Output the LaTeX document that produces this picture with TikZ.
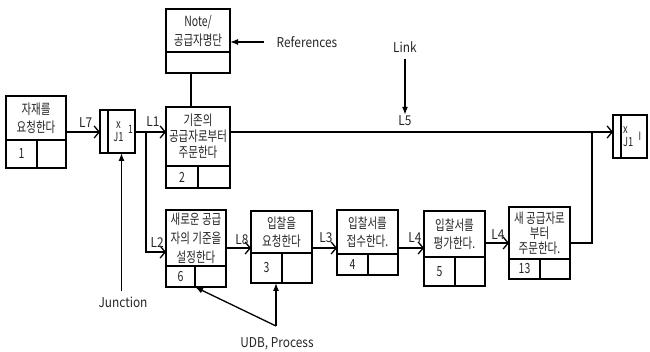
\documentclass[tikz,border=0pt]{standalone}
\usepackage{fontspec}
\setmainfont[FakeStretch=0.75]{Noto Sans CJK KR}
\newfontfamily\tagfont[FakeStretch=0.88]{Noto Sans CJK KR}
\usetikzlibrary{arrows.meta}
\tikzset{
  uob_text/.style = {draw=black, line width=1.7pt, anchor=north west, align=center,
    inner sep=0pt, outer sep=0pt, text=black!85,
    font=\fontsize{14}{16}\selectfont},% activity box, upper part
  uob_cell/.style = {uob_text, font=\fontsize{14}{15}\selectfont},% number / empty cell
  junc_bar/.style = {draw=black, line width=1.7pt, anchor=north west, inner sep=0pt,
    outer sep=0pt, minimum width=8pt, minimum height=43pt},% junction, left strip
  junc_box/.style = {junc_bar, minimum width=27pt},% junction, body
  tag/.style = {inner sep=1pt, text=black!85, font=\tagfont\fontsize{13.5}{14}\selectfont},
  flow/.style = {line width=1.3pt, -{Straight Barb[length=5pt,width=12pt]}},
  plain_line/.style = {line width=1.3pt},
  call_arrow/.style = {line width=1.3pt, -{Latex[length=8pt,width=6pt]}}
}

\begin{document}
\begin{tikzpicture}[x=1pt, y=-1pt]
  \useasboundingbox[fill=white] (0,0) rectangle (650,352);

  % activity boxes
  \node[uob_text, minimum width=60pt, minimum height=44pt, font=\fontsize{14}{18}\selectfont]
    (a1) at (6,96) {자재를\\요청한다};
  \node[uob_cell, minimum width=31pt, minimum height=28pt] (a1n) at (a1.south west) {1};
  \node[uob_cell, minimum width=29pt, minimum height=28pt] (a1e) at (a1n.north east) {};

  \node[uob_text, minimum width=64pt, minimum height=59pt] (a2) at (166,107) {기존의\\공급자로부터\\주문한다};
  \node[uob_cell, minimum width=32pt, minimum height=22pt] (a2n) at (a2.south west) {2};
  \node[uob_cell, minimum width=32pt, minimum height=22pt] (a2e) at (a2n.north east) {};

  \node[uob_text, minimum width=64pt, minimum height=43pt,
    font=\fontsize{14}{19}\selectfont] (n_top) at (166,9) {Note/\\공급자명단};
  \node[uob_cell, minimum width=64pt, minimum height=21pt] (n_bot) at (n_top.south west) {};

  \node[uob_text, minimum width=60pt, minimum height=56pt,
    font=\fontsize{14}{19}\selectfont] (a6) at (166,210) {새로운 공급\\자의 기준을\\설정한다};
  \node[uob_cell, minimum width=29pt, minimum height=21pt] (a6n) at (a6.south west) {6};
  \node[uob_cell, minimum width=31pt, minimum height=21pt] (a6e) at (a6n.north east) {};

  \node[uob_text, minimum width=61pt, minimum height=42pt, font=\fontsize{14}{18}\selectfont]
    (a3) at (251,211) {입찰을\\요청한다};
  \node[uob_cell, minimum width=31pt, minimum height=30pt] (a3n) at (a3.south west) {3};
  \node[uob_cell, minimum width=30pt, minimum height=30pt] (a3e) at (a3n.north east) {};

  \node[uob_text, minimum width=61pt, minimum height=44pt, font=\fontsize{14}{18}\selectfont]
    (a4) at (337,210) {입찰서를\\접수한다.};
  \node[uob_cell, minimum width=31pt, minimum height=21pt] (a4n) at (a4.south west) {4};
  \node[uob_cell, minimum width=30pt, minimum height=21pt] (a4e) at (a4n.north east) {};

  \node[uob_text, minimum width=61pt, minimum height=46pt, font=\fontsize{14}{18}\selectfont]
    (a5) at (424,211) {입찰서를\\평가한다.};
  \node[uob_cell, minimum width=31pt, minimum height=29pt] (a5n) at (a5.south west) {5};
  \node[uob_cell, minimum width=30pt, minimum height=29pt] (a5e) at (a5n.north east) {};

  \node[uob_text, minimum width=61pt, minimum height=52pt,
    font=\fontsize{14}{15}\selectfont] (a13) at (509,207) {새 공급자로\\부터\\주문한다.};
  \node[uob_cell, minimum width=31pt, minimum height=20pt] (a13n) at (a13.south west) {13};
  \node[uob_cell, minimum width=30pt, minimum height=20pt] (a13e) at (a13n.north east) {};

  % junctions
  \node[junc_bar] (j1b) at (100,110) {};
  \node[junc_box] (j1) at (j1b.north east) {};
  \node[tag, align=center, font=\fontsize{12.5}{13}\selectfont] (j1_txt) at ([xshift=-3pt]j1.center) {x\\J1};
  \node[tag, font=\fontsize{11.5}{12}\selectfont] (j1_tag) at ([xshift=-4.5pt,yshift=2pt]j1.east) {1};

  \node[junc_bar] (j2b) at (613,115) {};
  \node[junc_box, minimum width=26pt] (j2) at (j2b.north east) {};
  \node[tag, align=left, anchor=west, font=\fontsize{12.5}{13}\selectfont] (j2_txt) at ([xshift=1pt]j2.west) {x\\J1};
  \node[tag, font=\fontsize{11.5}{12}\selectfont] (j2_tag) at ([xshift=-7pt]j2.east) {I};

  % rows for the connectors
  \coordinate (top_row) at (0,132);
  \coordinate (split) at (146,132);
  \coordinate (merge) at (592,132);
  \coordinate (row) at (0,248);
  \coordinate (row_l2) at (0,252);
  \coordinate (row_b) at (0,243);

  \draw[flow] (a1.east |- top_row) -- node[tag, above=3pt, pos=.58] {L7} (j1b.west |- top_row);
  \draw[flow] (j1.east |- top_row) -- node[tag, above=4pt, pos=.58] {L1} (a2.west |- top_row);
  \draw[flow] (split) |- node[tag, above=3pt, pos=.78] {L2} (a6.west |- row_l2);
  \draw[flow] (a2.east |- top_row) -- (j2b.west |- top_row);
  \draw[flow] (a6.east |- row) -- node[tag, above=2pt, pos=.64] {L8} (a3.west |- row);
  \draw[flow] (a3.east |- row) -- node[tag, above=4pt, pos=.56] {L3} (a4.west |- row);
  \draw[flow] (a4.east |- row) -- node[tag, above=4pt, pos=.65] {L4} (a5.west |- row);
  \draw[flow] (a5.east |- row_b) -- node[tag, above=2pt, pos=.54] {L4} (a13.west |- row_b);
  \draw[plain_line] (a13.east |- row_b) -| (merge);
  \draw[plain_line] ([xshift=-7pt]n_bot.south) -- ([xshift=-7pt]a2.north);

  % call-outs
  \node[tag] (link) at (405,47) {Link};
  \node[tag] (l5) at (405,121) {L5};
  \draw[call_arrow, shorten <=5pt] (link.south) -- (l5.north);

  \node[tag] (refs) at (307,42) {References};
  \draw[call_arrow, shorten <=12pt] (refs.west) -- (n_top.east |- refs.west);

  \node[tag] (junc) at (123,302) {Junction};
  \draw[call_arrow, shorten <=4pt] (junc.north -| j1) -- (j1.south);

  \node[tag] (udb) at (277,344) {UDB, Process};
  \coordinate (udb_pt) at (276,326);
  \draw[call_arrow] (udb_pt) -- (udb_pt |- a3n.south);
  \draw[call_arrow] (udb_pt) -- (a6n.south east);
\end{tikzpicture}
\end{document}
